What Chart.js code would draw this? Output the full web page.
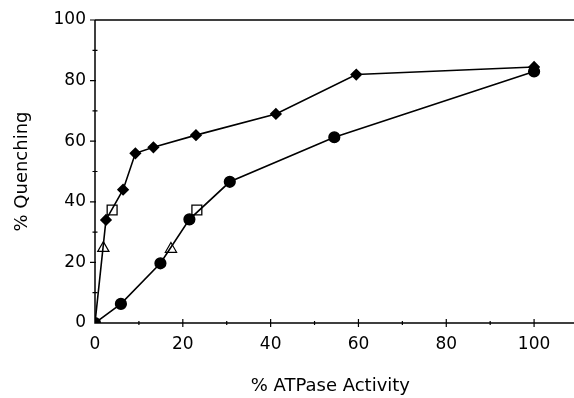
<!DOCTYPE html>
<html>
<head>
<meta charset="utf-8">
<script src="https://cdn.jsdelivr.net/npm/chart.js@4"></script>
<style>
  html, body { margin: 0; padding: 0; background: #fff; }
  canvas { display: block; }
</style>
</head>
<body>
<canvas id="chart" width="574" height="398"></canvas>
<script>
// values
var diamondX = [0, 2.5, 6.4, 9.2, 13.3, 23, 41.2, 59.5, 100];
var diamondY = [0, 34, 44, 56, 58, 62, 69, 82, 84.5];
var circleX = [0, 5.9, 14.9, 21.5, 30.7, 54.5, 100];
var circleY = [0, 6.3, 19.7, 34.2, 46.6, 61.3, 83];
var triangleX = [1.9, 17.3];
var triangleY = [24.7, 24.4];
var squareX = [3.9, 23.2];
var squareY = [37.3, 37.3];

var xTicks = [0, 20, 40, 60, 80, 100];
var yTicks = [0, 20, 40, 60, 80, 100];

function toPoints(xs, ys) {
    return xs.map((x, i) => ({ x: x, y: ys[i] }));
}

Chart.defaults.color = '#000';
Chart.defaults.font.family = "'DejaVu Sans', sans-serif";

// axis lines and crossing tick marks, like the original plot
const axesPlugin = {
    id: 'frameAxes',
    afterDraw: (chart) => {
        var { ctx, chartArea } = chart;
        var xs = chart.scales.x;
        var ys = chart.scales.y;
        var rightEdge = chart.width; // axis lines run off the right edge
        ctx.save();
        ctx.strokeStyle = '#000';
        ctx.lineWidth = 1.5;
        ctx.beginPath();
        ctx.moveTo(chartArea.left, chartArea.top);
        ctx.lineTo(rightEdge, chartArea.top);
        ctx.moveTo(chartArea.left, chartArea.top);
        ctx.lineTo(chartArea.left, chartArea.bottom);
        ctx.lineTo(rightEdge, chartArea.bottom);
        ctx.stroke();

        ctx.lineWidth = 1.2;
        ctx.beginPath();
        for (var v = 0; v <= 100; v += 10) {
            var major = v % 20 === 0;
            var px = xs.getPixelForValue(v);
            var len = major ? 4 : 2;
            if (v > 0) {
                ctx.moveTo(px, chartArea.bottom - len);
                ctx.lineTo(px, chartArea.bottom + len);
            }
            var py = ys.getPixelForValue(v);
            if (v > 0 && v < 100) {
                ctx.moveTo(chartArea.left - (major ? 5 : 2.5), py);
                ctx.lineTo(chartArea.left + (major ? 1 : 2.5), py);
            } else if (v === 100) {
                ctx.moveTo(chartArea.left - 5, py);
                ctx.lineTo(chartArea.left, py);
            }
        }
        ctx.stroke();
        ctx.restore();
    }
};

new Chart(document.getElementById('chart'), {
    type: 'scatter',
    data: {
        datasets: [{
            label: 'squares',
            data: toPoints(squareX, squareY),
            pointStyle: 'rect',
            pointRadius: 7,
            backgroundColor: 'rgba(0,0,0,0)',
            borderColor: '#000',
            borderWidth: 1.3,
            showLine: false,
            order: 0
        }, {
            label: 'triangles',
            data: toPoints(triangleX, triangleY),
            pointStyle: 'triangle',
            pointRadius: 6.5,
            backgroundColor: 'rgba(0,0,0,0)',
            borderColor: '#000',
            borderWidth: 1.2,
            showLine: false,
            order: 1
        }, {
            label: 'diamonds',
            data: toPoints(diamondX, diamondY),
            pointStyle: 'rectRot',
            pointRadius: diamondX.map((x, i) => i === 0 ? 0 : 5),
            backgroundColor: '#000',
            borderColor: '#000',
            borderWidth: 1.6,
            showLine: true,
            order: 2
        }, {
            label: 'circles',
            data: toPoints(circleX, circleY),
            pointStyle: 'circle',
            pointRadius: 5.3,
            backgroundColor: '#000',
            borderColor: '#000',
            borderWidth: 1.6,
            showLine: true,
            order: 3
        }]
    },
    options: {
        responsive: false,
        animation: false,
        layout: { padding: 0 },
        plugins: {
            legend: { display: false },
            tooltip: { enabled: false }
        },
        scales: {
            x: {
                type: 'linear',
                position: 'bottom',
                min: 0,
                max: 107.2,
                afterFit: (scale) => {
                    scale.height = 75;
                    scale.paddingLeft = 0;
                    scale.paddingRight = 0;
                },
                afterBuildTicks: (scale) => { scale.ticks = xTicks.map(v => ({ value: v })); },
                grid: { display: false, drawTicks: false },
                border: { display: false },
                ticks: {
                    font: { size: 17 },
                    padding: 11,
                    maxRotation: 0,
                    autoSkip: false
                },
                title: {
                    display: true,
                    text: '% ATPase Activity',
                    font: { size: 18 },
                    padding: { top: 1, bottom: 1 }
                }
            },
            x2: {
                type: 'linear',
                position: 'top',
                min: 0,
                max: 107.2,
                afterFit: (scale) => {
                    scale.height = 20;
                    scale.paddingLeft = 0;
                    scale.paddingRight = 0;
                },
                grid: { display: false, drawTicks: false },
                border: { display: false },
                ticks: { display: false }
            },
            y: {
                type: 'linear',
                min: 0,
                max: 100,
                afterFit: (scale) => {
                    scale.width = 95;
                    scale.paddingTop = 0;
                    scale.paddingBottom = 0;
                },
                afterBuildTicks: (scale) => { scale.ticks = yTicks.map(v => ({ value: v })); },
                grid: { display: false, drawTicks: false },
                border: { display: false },
                ticks: {
                    font: { size: 17 },
                    padding: 9
                },
                title: {
                    display: true,
                    text: '% Quenching',
                    font: { size: 18 },
                    padding: { top: 12, bottom: 0 }
                }
            }
        },
        elements: {
            line: { borderColor: '#000', borderWidth: 1.6, tension: 0 }
        }
    },
    plugins: [axesPlugin]
});
</script>
</body>
</html>
